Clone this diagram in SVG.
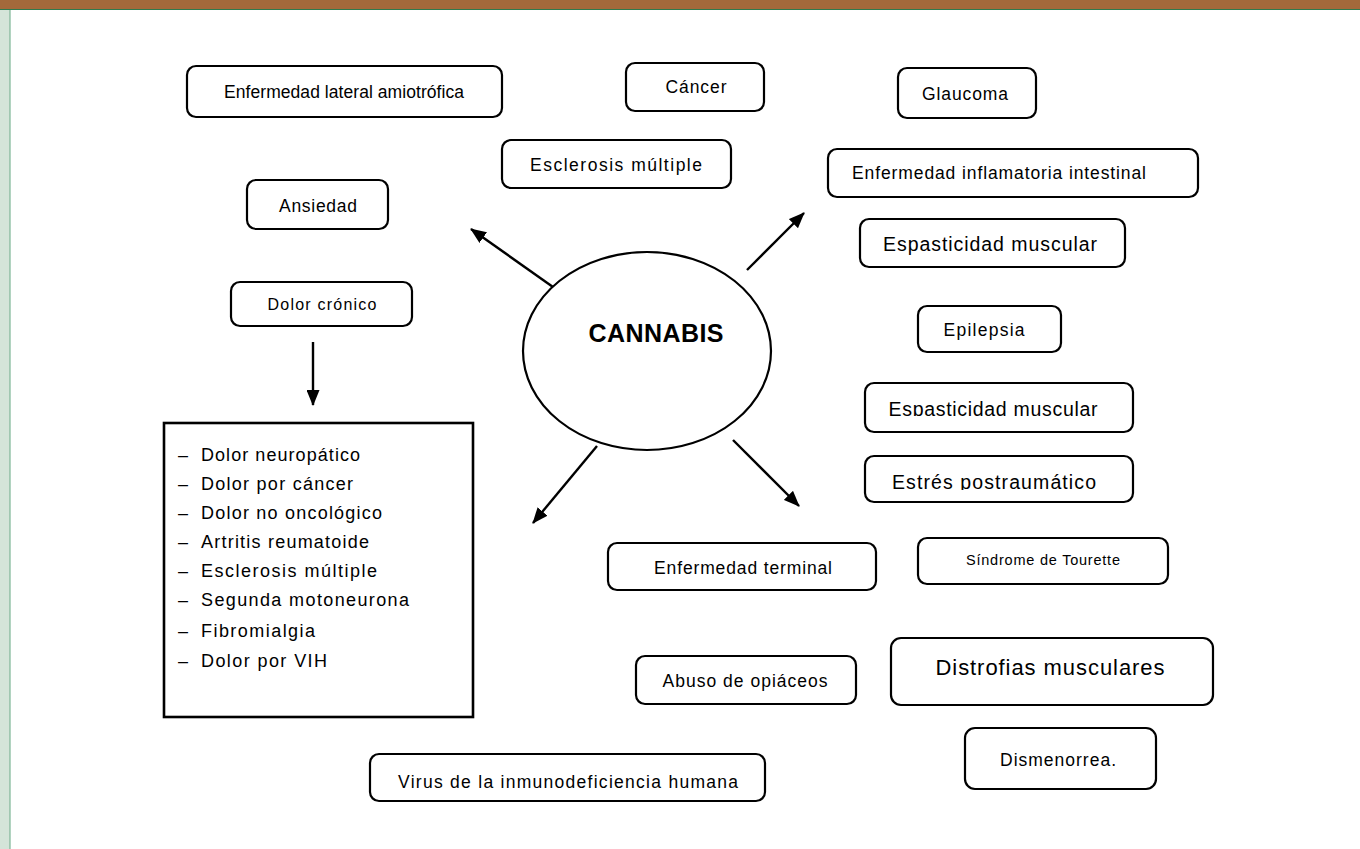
<svg xmlns="http://www.w3.org/2000/svg" width="1360" height="849" viewBox="0 0 1360 849">
  <defs>
    <marker id="arrow" markerWidth="16" markerHeight="13" refX="15" refY="6.5" orient="auto" markerUnits="userSpaceOnUse">
      <path d="M0,0 L16,6.5 L0,13 Z" fill="#000"/>
    </marker>
    <clipPath id="clipEsp2"><rect x="865" y="383" width="268" height="33"/></clipPath>
    <clipPath id="clipEstres"><rect x="865" y="456" width="268" height="34"/></clipPath>
  </defs>
  <style>
    .box { fill: #fff; stroke: #000; stroke-width: 2.2; }
    .lbl { font-family: "Liberation Sans", Arial, sans-serif; fill: #000; text-anchor: middle; font-size: 17.5px; }
    .item { font-family: "Liberation Sans", Arial, sans-serif; fill: #000; font-size: 18px; }
    .conn { stroke: #000; stroke-width: 2.4; fill: none; marker-end: url(#arrow); }
  </style>

  <!-- page frame -->
  <rect x="0" y="0" width="1360" height="849" fill="#fff"/>
  <rect x="0" y="0" width="10" height="849" fill="#D4E4D9"/>
  <line x1="10" y1="0" x2="10" y2="849" stroke="#7DB596" stroke-width="1.2"/>
  <rect x="0" y="0" width="1360" height="9" fill="#A3693B"/>
  <line x1="0" y1="9.5" x2="1360" y2="9.5" stroke="#2F7A4E" stroke-width="1"/>

  <!-- central node -->
  <g id="cannabis">
    <ellipse cx="647" cy="351" rx="124" ry="99" fill="#fff" stroke="#000" stroke-width="2.2"/>
    <text class="lbl" x="656" y="342" style="font-size:25px" font-weight="bold" textLength="135">CANNABIS</text>
  </g>

  <g id="ela">
    <rect class="box" x="187" y="66" width="315" height="51" rx="9"/>
    <text class="lbl" x="344" y="98" textLength="240">Enfermedad lateral amiotrófica</text>
  </g>
  <g id="cancer">
    <rect class="box" x="626" y="63" width="138" height="48" rx="9"/>
    <text class="lbl" x="696" y="93" textLength="61">Cáncer</text>
  </g>
  <g id="glaucoma">
    <rect class="box" x="898" y="68" width="138" height="50" rx="9"/>
    <text class="lbl" x="965" y="100" textLength="86">Glaucoma</text>
  </g>
  <g id="esclerosis">
    <rect class="box" x="502" y="140" width="229" height="48" rx="9"/>
    <text class="lbl" x="616" y="171" textLength="172">Esclerosis múltiple</text>
  </g>
  <g id="inflamatoria">
    <rect class="box" x="828" y="149" width="370" height="48" rx="9"/>
    <text class="lbl" x="999" y="179" textLength="294">Enfermedad inflamatoria intestinal</text>
  </g>
  <g id="espasticidad1">
    <rect class="box" x="860" y="219" width="265" height="48" rx="9"/>
    <text class="lbl" x="990" y="251" style="font-size:19.5px" textLength="214">Espasticidad  muscular</text>
  </g>
  <g id="ansiedad">
    <rect class="box" x="247" y="180" width="141" height="49" rx="9"/>
    <text class="lbl" x="318" y="212" textLength="78">Ansiedad</text>
  </g>
  <g id="dolor-cronico">
    <rect class="box" x="231" y="282" width="181" height="44" rx="9"/>
    <text class="lbl" x="322" y="310" style="font-size:16px" textLength="109">Dolor crónico</text>
  </g>
  <g id="epilepsia">
    <rect class="box" x="918" y="306" width="143" height="46" rx="9"/>
    <text class="lbl" x="984" y="336" textLength="81">Epilepsia</text>
  </g>
  <g id="espasticidad2">
    <rect class="box" x="865" y="383" width="268" height="49" rx="9"/>
    <text class="lbl" x="993" y="416" style="font-size:19.5px" textLength="209" clip-path="url(#clipEsp2)">Espasticidad  muscular</text>
  </g>
  <g id="estres">
    <rect class="box" x="865" y="456" width="268" height="46" rx="9"/>
    <text class="lbl" x="994" y="489" style="font-size:19.5px" textLength="204" clip-path="url(#clipEstres)">Estrés postraumático</text>
  </g>
  <g id="tourette">
    <rect class="box" x="918" y="538" width="250" height="46" rx="9"/>
    <text class="lbl" x="1043" y="565" style="font-size:14.5px" textLength="154">Síndrome de Tourette</text>
  </g>
  <g id="terminal">
    <rect class="box" x="608" y="543" width="268" height="47" rx="9"/>
    <text class="lbl" x="743" y="574" textLength="178">Enfermedad terminal</text>
  </g>
  <g id="opiaceos">
    <rect class="box" x="636" y="656" width="220" height="48" rx="9"/>
    <text class="lbl" x="745" y="687" textLength="165">Abuso de opiáceos</text>
  </g>
  <g id="distrofias">
    <rect class="box" x="891" y="638" width="322" height="67" rx="10"/>
    <text class="lbl" x="1050" y="675" style="font-size:22px" textLength="229">Distrofias musculares</text>
  </g>
  <g id="dismenorrea">
    <rect class="box" x="965" y="728" width="191" height="61" rx="10"/>
    <text class="lbl" x="1058" y="766" textLength="116">Dismenorrea.</text>
  </g>
  <g id="vih">
    <rect class="box" x="370" y="754" width="395" height="47" rx="9"/>
    <text class="lbl" x="568" y="788" textLength="340">Virus de la inmunodeficiencia humana</text>
  </g>

  <!-- list of chronic pain types -->
  <g id="tipos-dolor">
    <rect x="164" y="423" width="309" height="294" fill="#fff" stroke="#000" stroke-width="2.6"/>
    <g class="item">
      <text x="178" y="461">–</text><text x="201" y="461" textLength="159">Dolor neuropático</text>
      <text x="178" y="490">–</text><text x="201" y="490" textLength="152">Dolor por  cáncer</text>
      <text x="178" y="519">–</text><text x="201" y="519" textLength="181">Dolor no oncológico</text>
      <text x="178" y="548">–</text><text x="201" y="548" textLength="168">Artritis reumatoide</text>
      <text x="178" y="577">–</text><text x="201" y="577" textLength="176">Esclerosis  múltiple</text>
      <text x="178" y="606">–</text><text x="201" y="606" textLength="208">Segunda  motoneurona</text>
      <text x="178" y="637">–</text><text x="201" y="637" textLength="114">Fibromialgia</text>
      <text x="178" y="667">–</text><text x="201" y="667" textLength="126">Dolor por  VIH</text>
    </g>
  </g>

  <!-- connectors -->
  <g id="connectors">
    <line class="conn" x1="553" y1="287" x2="471" y2="229"/>
    <line class="conn" x1="747" y1="270" x2="804" y2="213"/>
    <line class="conn" x1="597" y1="446" x2="533" y2="523"/>
    <line class="conn" x1="733" y1="440" x2="799" y2="506"/>
    <line class="conn" x1="313" y1="342" x2="313" y2="405"/>
  </g>
</svg>
